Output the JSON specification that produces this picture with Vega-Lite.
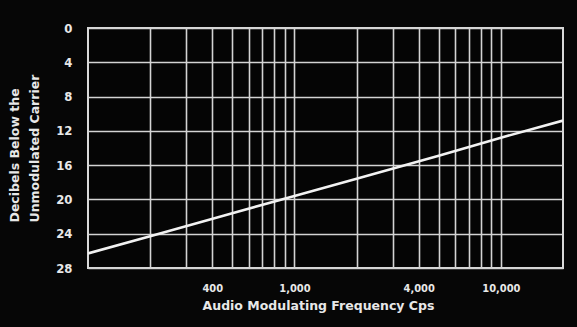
{
  "$schema": "https://vega.github.io/schema/vega-lite/v6.json",
  "autosize": "none",
  "width": 475,
  "height": 240,
  "padding": {"left": 88, "top": 28, "right": 14, "bottom": 59},
  "background": "#060606",
  "config": {
    "view": {"stroke": "#d9d9d9", "strokeWidth": 2, "fill": "#050505"},
    "font": "DejaVu Sans Condensed"
  },
  "data": {
    "values": [
      {"freq": 100, "db": 26.3},
      {"freq": 200, "db": 24.3},
      {"freq": 500, "db": 21.6},
      {"freq": 1000, "db": 19.6},
      {"freq": 2000, "db": 17.6},
      {"freq": 5000, "db": 14.9},
      {"freq": 10000, "db": 12.8},
      {"freq": 20000, "db": 10.8}
    ]
  },
  "mark": {"type": "line", "color": "#f2f2f2", "strokeWidth": 2.6, "clip": true},
  "encoding": {
    "x": {
      "field": "freq",
      "type": "quantitative",
      "scale": {"type": "log", "domain": [100, 20000], "nice": false},
      "axis": {
        "values": [200, 300, 400, 500, 600, 700, 800, 900, 1000, 2000, 3000, 4000, 5000, 6000, 7000, 8000, 9000, 10000],
        "labelExpr": "(datum.value == 400 || datum.value == 1000 || datum.value == 4000 || datum.value == 10000) ? format(datum.value, ',') : ''",
        "grid": true,
        "gridColor": "#d4d4d4",
        "gridWidth": 1.6,
        "gridOpacity": 1,
        "ticks": false,
        "domain": false,
        "labelColor": "#e8e8e8",
        "labelFont": "DejaVu Sans Condensed",
        "labelFontWeight": "bold",
        "labelFontSize": 11,
        "labelPadding": 14,
        "labelBaseline": "top",
        "title": "Audio Modulating Frequency Cps",
        "titleColor": "#e8e8e8",
        "titleFont": "DejaVu Sans",
        "titleFontWeight": "bold",
        "titleFontSize": 12.5,
        "titlePadding": 6,
        "titleX": 230
      }
    },
    "y": {
      "field": "db",
      "type": "quantitative",
      "scale": {"domain": [0, 28], "reverse": true, "nice": false},
      "axis": {
        "values": [0, 4, 8, 12, 16, 20, 24, 28],
        "grid": true,
        "gridColor": "#d4d4d4",
        "gridWidth": 1.6,
        "gridOpacity": 1,
        "ticks": false,
        "domain": false,
        "labelColor": "#e8e8e8",
        "labelFont": "DejaVu Sans Condensed",
        "labelFontWeight": "bold",
        "labelFontSize": 13,
        "labelPadding": 16,
        "title": ["Decibels Below the", "Unmodulated Carrier"],
        "titleColor": "#e8e8e8",
        "titleFont": "DejaVu Sans",
        "titleFontWeight": "bold",
        "titleFontSize": 12.5,
        "titleLineHeight": 20,
        "titleAlign": "left",
        "titleX": -67,
        "titleY": 194,
        "titleBaseline": "bottom"
      }
    }
  }
}
